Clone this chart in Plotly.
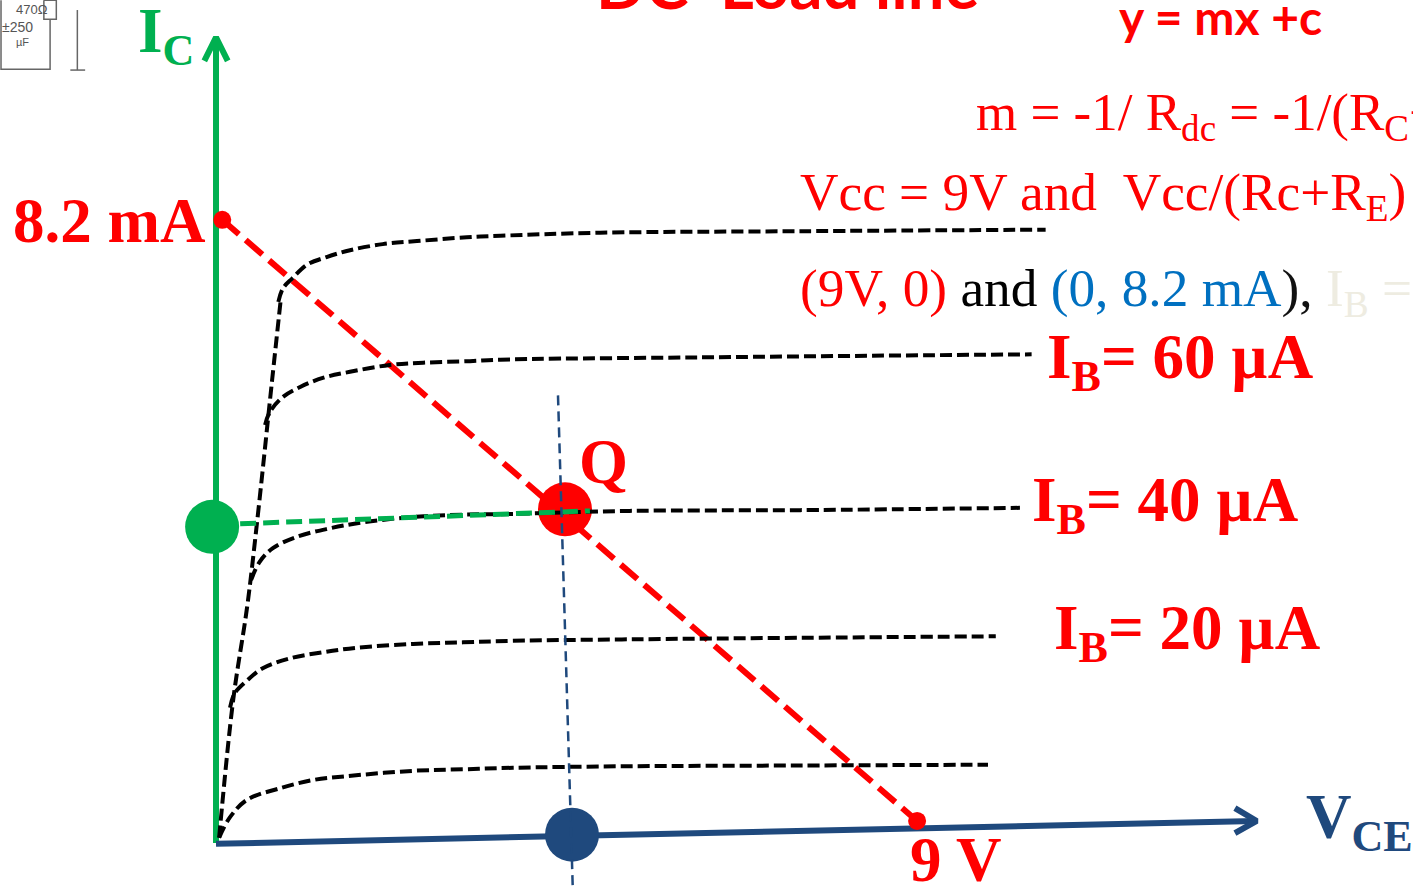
import plotly.graph_objects as go

# load line end points, V and mA
load_v = [0.08, 9.0]
load_ma = [8.2, 0.29]

# collector curves, top to bottom
curve_e_v = [0.80, 0.86, 0.98, 1.17, 1.42, 1.72, 2.14, 2.58, 3.22, 3.65, 4.93, 7.5, 10.65]
curve_e_ma = [7.12, 7.30, 7.43, 7.61, 7.71, 7.80, 7.88, 7.92, 7.97, 7.99, 8.03, 8.05, 8.07]
curve_d_v = [0.63, 0.69, 0.86, 1.08, 1.37, 1.72, 2.23, 2.66, 3.26, 3.65, 6.21, 10.47]
curve_d_ma = [5.50, 5.67, 5.87, 6.00, 6.12, 6.20, 6.29, 6.32, 6.34, 6.36, 6.39, 6.43]
curve_c_v = [0.45, 0.56, 0.73, 1.04, 1.46, 1.89, 2.53, 3.17, 3.81, 5.31, 7.5, 10.32]
curve_c_ma = [3.46, 3.70, 3.88, 4.03, 4.14, 4.22, 4.29, 4.32, 4.33, 4.37, 4.38, 4.41]
curve_b_v = [0.18, 0.24, 0.40, 0.60, 0.95, 1.37, 1.81, 2.53, 3.17, 3.81, 5.31, 7.5, 10.01]
curve_b_ma = [1.78, 1.97, 2.14, 2.30, 2.43, 2.51, 2.57, 2.62, 2.64, 2.66, 2.68, 2.70, 2.72]
curve_a_v = [0.04, 0.18, 0.40, 0.82, 1.25, 1.68, 2.53, 3.17, 3.81, 5.28, 7.5, 9.91]
curve_a_ma = [0.07, 0.34, 0.57, 0.72, 0.83, 0.88, 0.95, 0.97, 0.99, 1.01, 1.02, 1.03]
knee_v = [0.04, 0.22, 0.40, 0.53, 0.72, 0.83]
knee_ma = [0.07, 1.88, 3.11, 4.25, 6.09, 7.14]

# operating point and its projections
q_v, q_ma = 4.48, 4.39
ic_point = (-0.05, 4.16)
vce_point = (4.57, 0.11)
ic_guide_v = [0.31, 4.80]
ic_guide_ma = [4.20, 4.37]
vce_guide_v = [4.39, 4.58]
vce_guide_ma = [5.89, -0.605]

# axes with their arrow heads
ic_axis_v = [0, 0, None, -0.15, 0, 0.15]
ic_axis_ma = [0, 10.6, None, 10.29, 10.6, 10.29]
vce_axis_v = [0, 13.34, None, 13.08, 13.36, 13.08]
vce_axis_ma = [-0.01, 0.29, None, 0.46, 0.29, 0.13]

# bit of circuit scan in the corner
scan_v = [-2.76, -2.76, -2.13, -2.13, None, -2.21, -2.05, -2.05, -2.21, -2.21, None, -1.78, -1.78, None, -1.87, -1.68]
scan_ma = [11.09, 10.18, 10.18, 10.84, None, 11.09, 11.09, 10.84, 10.84, 11.09, None, 10.96, 10.17, None, 10.17, 10.17]

RED = "#FF0000"
GREEN = "#00B050"
NAVY = "#1F497D"
SERIF = "Liberation Serif"
SANS = "Lato"
W, H = 1413, 889

fig = go.Figure()


def add_line(xs, ys, color, width, dash="solid", shape="linear"):
    fig.add_trace(go.Scatter(x=xs, y=ys, mode="lines",
                             line=dict(color=color, width=width, dash=dash, shape=shape, simplify=False),
                             hoverinfo="skip"))


def add_dot(x, y, color, size):
    fig.add_trace(go.Scatter(x=[x], y=[y], mode="markers",
                             marker=dict(color=color, size=size, line=dict(width=0)),
                             hoverinfo="skip"))


def label(text, px, py, size, color=RED, bold=True, family=SERIF, anchor="left"):
    shown = f"<b>{text}</b>" if bold else text
    fig.add_annotation(text=shown, x=px / W, y=1 - py / H, xref="paper", yref="paper",
                       xanchor=anchor, yanchor="middle", showarrow=False,
                       font=dict(family=family, size=size, color=color))


add_line(scan_v, scan_ma, "#666666", 1.5)
add_line(ic_axis_v, ic_axis_ma, GREEN, 6)
add_line(vce_axis_v, vce_axis_ma, NAVY, 6)
add_dot(q_v, q_ma, RED, 54)
add_dot(ic_point[0], ic_point[1], GREEN, 54)
add_dot(vce_point[0], vce_point[1], NAVY, 54)
add_line(load_v, load_ma, RED, 6, "22px,9px")
add_dot(load_v[0], load_ma[0], RED, 18)
add_dot(load_v[1], load_ma[1], RED, 18)
for xs, ys in [(knee_v, knee_ma), (curve_e_v, curve_e_ma), (curve_d_v, curve_d_ma),
               (curve_c_v, curve_c_ma), (curve_b_v, curve_b_ma), (curve_a_v, curve_a_ma)]:
    add_line(xs, ys, "black", 4, "12px,5px", "spline")
add_line(ic_guide_v, ic_guide_ma, GREEN, 5, "16px,7px")
add_line(vce_guide_v, vce_guide_ma, NAVY, 2.5, "10px,6px")

label("I<sub>C</sub>", 136, 35, 63, color=GREEN)
label("8.2 mA", 11, 221, 63)
label("Q", 577, 462, 63)
label("9 V", 908, 860, 63)
label("V<sub>CE</sub>", 1304, 821, 63, color=NAVY)
label("I<sub>B</sub>= 60 µA", 1045, 361, 63)
label("I<sub>B</sub>= 40 µA", 1030, 505, 63)
label("I<sub>B</sub>= 20 µA", 1052, 632, 63)

label("DC&nbsp; Load line", 594, -16, 65, family=SANS)
label("y = mx +c", 1117, 16, 48, family=SANS)
label("m = -1/ R<sub>dc</sub> = -1/(R<sub>C</sub>+", 974, 116, 53, bold=False)
label("Vcc = 9V and&nbsp; Vcc/(Rc+R<sub>E</sub>)", 798, 196, 53.3, bold=False)
label('(9V, 0) <span style="color:black">and</span> <span style="color:#0070C0">(0, 8.2 mA</span>'
      '<span style="color:#111111">),</span> <span style="color:#EEECE1">I<sub>B</sub> =</span>',
      798, 292, 53.3, bold=False)

label("470Ω", 14, 9, 13, color="#555555", bold=False, family="Liberation Sans")
label("±250", 0, 27, 14, color="#555555", bold=False, family="Liberation Sans")
label("µF", 14, 42, 11, color="#555555", bold=False, family="Liberation Sans")

fig.update_layout(
    width=W, height=H, margin=dict(l=0, r=0, t=0, b=0), showlegend=False,
    paper_bgcolor="white", plot_bgcolor="white",
    xaxis=dict(range=[-2.773, 15.366], visible=False, fixedrange=True),
    yaxis=dict(range=[-0.605, 11.092], visible=False, fixedrange=True),
)

fig.write_html("out.html", config=dict(displayModeBar=False),
               post_script="document.body.style.margin='0';document.body.style.overflow='hidden';")
